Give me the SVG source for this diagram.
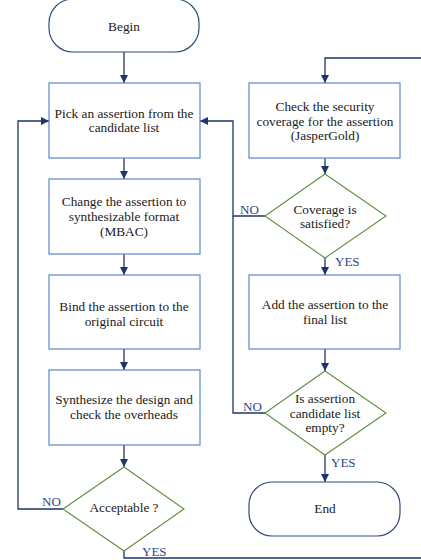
<svg xmlns="http://www.w3.org/2000/svg" width="421" height="560" viewBox="0 0 421 560" font-family="Liberation Serif, serif">
<defs>
<marker id="ah" viewBox="0 0 10 10" refX="10" refY="5" markerWidth="8" markerHeight="9" markerUnits="userSpaceOnUse" orient="auto">
<path d="M0,0 L10,5 L0,10 z" fill="#1F3468"/>
</marker>
<style>
.box{fill:#fff;stroke:#5B86CF;stroke-width:1.2}
.term{fill:#fff;stroke:#2F4A7F;stroke-width:1.2}
.dia{fill:#fff;stroke:#5E8F3E;stroke-width:1.1}
.t{font-family:'Liberation Serif',serif;font-size:13.3px;fill:#1a1a1a;text-anchor:middle}
.lbl{font-family:'Liberation Serif',serif;font-size:13px;fill:#2B4784}
.c{fill:none;stroke:#1F3468;stroke-width:1.3}
</style>
</defs>
<rect width="421" height="560" fill="#fff"/>
<g id="connectors">
<path class="c" d="M124,52 V83" marker-end="url(#ah)"/>
<path class="c" d="M124,158 V179" marker-end="url(#ah)"/>
<path class="c" d="M124,254 V275" marker-end="url(#ah)"/>
<path class="c" d="M124,349 V370" marker-end="url(#ah)"/>
<path class="c" d="M124,445 V467" marker-end="url(#ah)"/>
<path class="c" d="M63,509 H18 V121 H49" marker-end="url(#ah)"/>
<path class="c" d="M124,551 V558 H425 V58 H325 V83" marker-end="url(#ah)"/>
<path class="c" d="M325,158 V174" marker-end="url(#ah)"/>
<path class="c" d="M265,216 H233 V121 H200" marker-end="url(#ah)"/>
<path class="c" d="M265,413 H233 V216"/>
<path class="c" d="M325,258 V275" marker-end="url(#ah)"/>
<path class="c" d="M325,349 V371" marker-end="url(#ah)"/>
<path class="c" d="M325,455 V482" marker-end="url(#ah)"/>
<text class="lbl" x="42" y="506">NO</text>
<text class="lbl" x="142" y="556">YES</text>
<text class="lbl" x="240" y="214">NO</text>
<text class="lbl" x="335" y="266">YES</text>
<text class="lbl" x="243" y="411">NO</text>
<text class="lbl" x="331" y="467">YES</text>
</g>
<g id="begin">
<rect class="term" x="49" y="-1" width="150" height="53" rx="24" ry="24"/>
<text class="t" x="124" y="31">Begin</text>
</g>
<g id="pick">
<rect class="box" x="49" y="83" width="151" height="75"/>
<text class="t" x="124" y="118">Pick an assertion from the</text>
<text class="t" x="124" y="132">candidate list</text>
</g>
<g id="change">
<rect class="box" x="49" y="179" width="151" height="75"/>
<text class="t" x="124" y="206">Change the assertion to</text>
<text class="t" x="124" y="221">synthesizable format</text>
<text class="t" x="124" y="236">(MBAC)</text>
</g>
<g id="bind">
<rect class="box" x="49" y="275" width="151" height="74"/>
<text class="t" x="124" y="311">Bind the assertion to the</text>
<text class="t" x="124" y="326">original circuit</text>
</g>
<g id="synth">
<rect class="box" x="49" y="370" width="151" height="75"/>
<text class="t" x="124" y="404">Synthesize the design and</text>
<text class="t" x="124" y="419">check the overheads</text>
</g>
<g id="acceptable">
<polygon class="dia" points="124,467 184,509 124,551 63,509"/>
<text class="t" x="124" y="512">Acceptable ?</text>
</g>
<g id="check">
<rect class="box" x="249" y="83" width="151" height="75"/>
<text class="t" x="325" y="111">Check the security</text>
<text class="t" x="325" y="126">coverage for the assertion</text>
<text class="t" x="325" y="140">(JasperGold)</text>
</g>
<g id="coverage">
<polygon class="dia" points="325,174 386,216 325,258 265,216"/>
<text class="t" x="325" y="214">Coverage is</text>
<text class="t" x="325" y="228">satisfied?</text>
</g>
<g id="add">
<rect class="box" x="249" y="275" width="151" height="74"/>
<text class="t" x="325" y="309">Add the assertion to the</text>
<text class="t" x="325" y="324">final list</text>
</g>
<g id="isempty">
<polygon class="dia" points="325,371 386,413 325,455 265,413"/>
<text class="t" x="325" y="403">Is assertion</text>
<text class="t" x="325" y="418">candidate list</text>
<text class="t" x="325" y="432">empty?</text>
</g>
<g id="end">
<rect class="term" x="249" y="482" width="151" height="54" rx="23" ry="23"/>
<text class="t" x="325" y="513">End</text>
</g>
</svg>
